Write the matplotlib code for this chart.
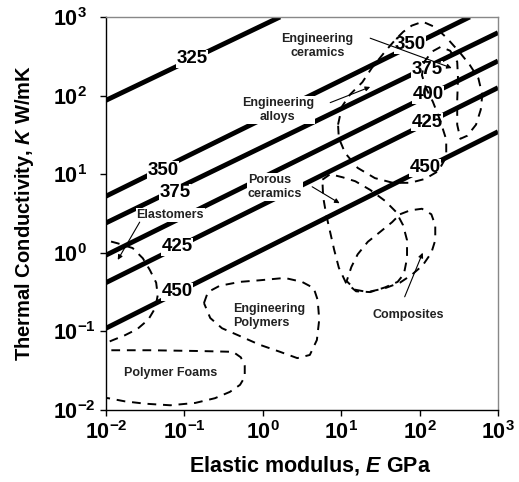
import matplotlib
matplotlib.use("Agg")
import matplotlib.pyplot as plt
import numpy as np

plt.rcParams["font.family"] = ["Liberation Sans", "DejaVu Sans"]
plt.rcParams["font.weight"] = "bold"
plt.rcParams["mathtext.fontset"] = "custom"
plt.rcParams["mathtext.rm"] = "Liberation Sans:bold"
plt.rcParams["mathtext.bf"] = "Liberation Sans:bold"
plt.rcParams["mathtext.it"] = "Liberation Sans:italic:bold"
plt.rcParams["mathtext.default"] = "bf"
plt.rcParams["axes.unicode_minus"] = False

# iso-lines, log10 of E (GPa) and K (W/mK) at both ends
iso_labels = ["325", "350", "375", "400", "425", "450"]
iso_logE = [(-2, 0.22), (-2, 2.64), (-2, 3.0), (-2, 3.0), (-2, 3.0), (-2, 3.0)]
iso_logK = [(1.94, 3.0), (0.72, 3.0), (0.38, 2.80), (-0.03, 2.44), (-0.38, 2.10), (-0.96, 1.54)]

# material envelopes, log10 values
ceramics_alloys_logE = [0.96, 1.01, 1.11, 1.27, 1.39, 1.56, 1.69, 1.79, 1.90, 2.04, 2.20, 2.35,
                        2.52, 2.64, 2.75, 2.80, 2.78, 2.72, 2.61, 2.52, 2.48, 2.48, 2.49, 2.48,
                        2.39, 2.27, 2.16, 2.06, 2.03, 2.08, 2.17, 2.26, 2.34, 2.34, 2.24, 2.07,
                        1.88, 1.66, 1.43, 1.21, 1.05, 0.97]
ceramics_alloys_logK = [1.63, 1.86, 2.01, 2.17, 2.35, 2.56, 2.71, 2.81, 2.89, 2.94, 2.87, 2.73,
                        2.54, 2.39, 2.22, 2.01, 1.82, 1.63, 1.49, 1.45, 1.63, 1.94, 2.22, 2.43,
                        2.57, 2.62, 2.56, 2.43, 2.26, 2.10, 1.92, 1.69, 1.44, 1.22, 1.04, 0.94,
                        0.89, 0.89, 0.95, 1.08, 1.27, 1.46]

porous_logE = [0.76, 0.86, 1.02, 1.18, 1.37, 1.56, 1.70, 1.79, 1.84, 1.84, 1.80, 1.72,
               1.56, 1.37, 1.19, 1.06, 0.97, 0.91, 0.86, 0.81, 0.77]
porous_logK = [0.93, 1.00, 0.96, 0.91, 0.80, 0.66, 0.52, 0.35, 0.16, -0.07, -0.27, -0.37,
               -0.44, -0.50, -0.49, -0.38, -0.19, 0.04, 0.26, 0.48, 0.71]

composites_logE = [1.75, 1.88, 2.03, 2.15, 2.20, 2.20, 2.15, 2.04, 1.90, 1.75, 1.56, 1.34,
                   1.18, 1.07, 1.13, 1.21, 1.34, 1.49, 1.65]
composites_logK = [0.49, 0.54, 0.56, 0.49, 0.35, 0.16, 0.00, -0.16, -0.28, -0.38, -0.45, -0.50,
                   -0.47, -0.36, -0.18, -0.02, 0.14, 0.26, 0.39]

elastomers_logE = [-2.13, -2.00, -1.85, -1.66, -1.53, -1.44, -1.36, -1.34, -1.37, -1.46,
                   -1.60, -1.76, -1.91, -2.03, -2.15]
elastomers_logK = [0.18, 0.16, 0.12, 0.06, -0.07, -0.22, -0.38, -0.54, -0.70, -0.85,
                   -0.97, -1.05, -1.11, -1.16, -1.20]

polymers_logE = [-0.75, -0.70, -0.55, -0.29, -0.04, 0.28, 0.50, 0.65, 0.70, 0.72, 0.69, 0.60,
                 0.44, 0.22, -0.04, -0.29, -0.52, -0.67]
polymers_logK = [-0.64, -0.50, -0.42, -0.37, -0.35, -0.32, -0.37, -0.45, -0.60, -0.85, -1.11,
                 -1.30, -1.34, -1.26, -1.17, -1.06, -0.96, -0.83]

foams_logE = [-2.13, -2.00, -1.44, -0.80, -0.38, -0.28, -0.23, -0.23, -0.29, -0.42, -0.61,
              -0.86, -1.18, -1.50, -1.76, -1.97, -2.13]
foams_logK = [-1.24, -1.24, -1.24, -1.25, -1.26, -1.33, -1.44, -1.58, -1.68, -1.77, -1.85,
              -1.91, -1.94, -1.92, -1.89, -1.85, -1.83]


def pw(v):
    return 10 ** np.asarray(v, dtype=float)


fig = plt.figure(figsize=(5.19, 4.82), dpi=100)
ax = fig.add_axes([0.2042, 0.1494, 0.7553, 0.8154])
ax.set_xscale("log")
ax.set_yscale("log")
ax.set_xlim(1e-2, 1e3)
ax.set_ylim(1e-2, 1e3)

# thick iso-lines
for le, lk in zip(iso_logE, iso_logK):
    ax.plot(pw(le), pw(lk), color="black", lw=3.5, solid_capstyle="butt", zorder=2)

# line labels (white box makes the gap in the line)
box = dict(facecolor="white", edgecolor="none", pad=0.6)
num_kw = dict(fontsize=13.5, fontweight="bold", ha="center", va="center", bbox=box, zorder=3)
ax.text(0.125, 292, iso_labels[0], **num_kw)
ax.text(0.0533, 11.3, iso_labels[1], **num_kw)
ax.text(0.0759, 5.77, iso_labels[2], **num_kw)
ax.text(0.0805, 1.19, iso_labels[4], **num_kw)
ax.text(0.0805, 0.317, iso_labels[5], **num_kw)
ax.text(75.5, 440, iso_labels[1], **num_kw)
ax.text(124, 212, iso_labels[2], **num_kw)
ax.text(128, 102, iso_labels[3], **num_kw)
ax.text(124, 46.1, iso_labels[4], **num_kw)
ax.text(117, 12.0, iso_labels[5], **num_kw)

# dashed envelopes
dash = dict(color="black", lw=1.4, ls=(0, (4.5, 3.5)), zorder=4)
for le, lk, closed in [(ceramics_alloys_logE, ceramics_alloys_logK, True),
                       (porous_logE, porous_logK, True),
                       (composites_logE, composites_logK, True),
                       (elastomers_logE, elastomers_logK, False),
                       (polymers_logE, polymers_logK, True),
                       (foams_logE, foams_logK, False)]:
    le, lk = list(le), list(lk)
    if closed:
        le.append(le[0])
        lk.append(lk[0])
    ax.plot(pw(le), pw(lk), **dash)

# material names
name_kw = dict(fontsize=9, fontweight="bold", color="#222222", va="center", bbox=box, zorder=3)
ax.text(5.0, 427, "Engineering\nceramics", ha="center", **name_kw)
ax.text(1.56, 65.7, "Engineering\nalloys", ha="center", **name_kw)
ax.text(0.646, 6.9, "Porous\nceramics", ha="left", **name_kw)
ax.text(0.066, 3.0, "Elastomers", ha="center", **name_kw)
ax.text(0.417, 0.158, "Engineering\nPolymers", ha="left", **name_kw)
ax.text(0.0676, 0.0295, "Polymer Foams", ha="center", **name_kw)
ax.text(71, 0.162, "Composites", ha="center", **name_kw)

arrow = dict(arrowstyle="-|>", lw=0.8, color="black", mutation_scale=7, shrinkA=0, shrinkB=0)
for (x0, y0), (x1, y1) in [((1.37, 2.73), (2.41, 2.35)),
                           ((0.86, 1.91), (1.37, 2.11)),
                           ((0.63, 0.84), (0.98, 0.63)),
                           ((-1.57, 0.39), (-1.85, -0.09)),
                           ((1.81, -0.56), (2.04, 0.00))]:
    ax.annotate("", xy=(10 ** x1, 10 ** y1), xytext=(10 ** x0, 10 ** y0),
                arrowprops=arrow, zorder=5)

# axes styling
ax.minorticks_off()
ax.set_xticks([1e-2, 1e-1, 1e0, 1e1, 1e2, 1e3])
ax.set_yticks([1e-2, 1e-1, 1e0, 1e1, 1e2, 1e3])
ax.tick_params(axis="both", direction="out", length=4, width=1, labelsize=15.5)
ax.tick_params(axis="x", pad=4)
ax.tick_params(axis="y", pad=34)
for lab in ax.get_yticklabels():
    lab.set_ha("left")
for side in ["left", "bottom"]:
    ax.spines[side].set_color("black")
    ax.spines[side].set_linewidth(1.0)
for side in ["top", "right"]:
    ax.spines[side].set_color("#888888")
    ax.spines[side].set_linewidth(1.0)

ax.set_xlabel("Elastic modulus, $\\mathit{E}$ GPa", fontsize=15.5, fontweight="bold", va="center")
ax.xaxis.set_label_coords(0.52, -0.140)
ax.set_ylabel("Thermal Conductivity, $\\mathit{K}$ W/mK", fontsize=14.5, fontweight="bold", va="center")
ax.yaxis.set_label_coords(-0.207, 0.5)

fig.savefig("out.png", dpi=100)
